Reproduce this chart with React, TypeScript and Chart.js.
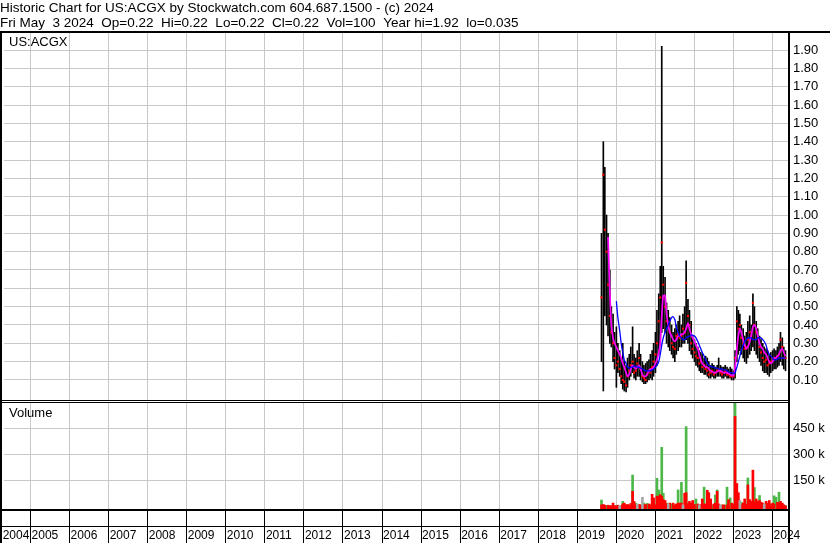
import React, { useEffect, useRef } from 'react';
import { Chart, registerables } from 'chart.js';

Chart.register(...registerables);

const FONT = '"Liberation Sans", Arial, Helvetica, sans-serif';

const headerLines = [
  'Historic Chart for US:ACGX by Stockwatch.com 604.687.1500 - (c) 2024',
  'Fri May  3 2024  Op=0.22  Hi=0.22  Lo=0.22  Cl=0.22  Vol=100  Year hi=1.92  lo=0.035',
];
const symbolLabel = 'US:ACGX';
const volumeLabel = 'Volume';

// year boundaries (the first one sits just before the visible window)
const yearTicks = [2004.26, 2005, 2006, 2007, 2008, 2009, 2010, 2011, 2012, 2013, 2014, 2015, 2016, 2017, 2018, 2019, 2020, 2021, 2022, 2023, 2024];
const priceTicks = [0.1, 0.2, 0.3, 0.4, 0.5, 0.6, 0.7, 0.8, 0.9, 1.0, 1.1, 1.2, 1.3, 1.4, 1.5, 1.6, 1.7, 1.8, 1.9];
const volTicksK = [150, 300, 450];

const dates = [
  '2019-08-15', '2019-09-01', '2019-09-15', '2019-10-01', '2019-10-15', '2019-11-01', '2019-11-15', '2019-12-01', '2019-12-15',
  '2020-01-01', '2020-01-15', '2020-02-01', '2020-02-15', '2020-03-01', '2020-03-15', '2020-04-01', '2020-04-15', '2020-05-01', '2020-05-15', '2020-06-01', '2020-06-15',
  '2020-07-01', '2020-07-15', '2020-08-01', '2020-08-15', '2020-09-01', '2020-09-15', '2020-10-01', '2020-10-15', '2020-11-01', '2020-11-15', '2020-12-01', '2020-12-15',
  '2021-01-01', '2021-01-15', '2021-02-01', '2021-02-15', '2021-03-01', '2021-03-15', '2021-04-01', '2021-04-15', '2021-05-01', '2021-05-15', '2021-06-01', '2021-06-15',
  '2021-07-01', '2021-07-15', '2021-08-01', '2021-08-15', '2021-09-01', '2021-09-15', '2021-10-01', '2021-10-15', '2021-11-01', '2021-11-15', '2021-12-01', '2021-12-15',
  '2022-01-01', '2022-01-15', '2022-02-01', '2022-02-15', '2022-03-01', '2022-03-15', '2022-04-01', '2022-04-15', '2022-05-01', '2022-05-15', '2022-06-01', '2022-06-15',
  '2022-07-01', '2022-07-15', '2022-08-01', '2022-08-15', '2022-09-01', '2022-09-15', '2022-10-01', '2022-10-15', '2022-11-01', '2022-11-15', '2022-12-01', '2022-12-15',
  '2023-01-01', '2023-01-15', '2023-02-01', '2023-02-15', '2023-03-01', '2023-03-15', '2023-04-01', '2023-04-15', '2023-05-01', '2023-05-15', '2023-06-01', '2023-06-15',
  '2023-07-01', '2023-07-15', '2023-08-01', '2023-08-15', '2023-09-01', '2023-09-15', '2023-10-01', '2023-10-15', '2023-11-01', '2023-11-15', '2023-12-01', '2023-12-15',
  '2024-01-01', '2024-01-15', '2024-02-01', '2024-02-15', '2024-03-01', '2024-03-15', '2024-04-01', '2024-04-15', '2024-05-01',
];

const high = [
  0.90, 1.40, 1.26, 1.00, 0.90, 0.70, 0.50, 0.46, 0.36,
  0.39, 0.30, 0.26, 0.22, 0.30, 0.20, 0.18, 0.22, 0.24, 0.28, 0.39, 0.24,
  0.22, 0.26, 0.30, 0.24, 0.20, 0.18, 0.19, 0.20, 0.21, 0.24, 0.26, 0.30,
  0.36, 0.48, 0.57, 0.72, 1.92, 0.72, 0.66, 0.52, 0.48, 0.44, 0.40, 0.36,
  0.38, 0.40, 0.42, 0.45, 0.40, 0.46, 0.50, 0.75, 0.54, 0.48, 0.42, 0.34,
  0.32, 0.30, 0.28, 0.26, 0.25, 0.24, 0.22, 0.23, 0.22, 0.20, 0.18, 0.19,
  0.18, 0.17, 0.18, 0.22, 0.18, 0.17, 0.17, 0.18, 0.17, 0.16, 0.17, 0.16,
  0.15, 0.26, 0.50, 0.48, 0.46, 0.40, 0.38, 0.34, 0.36, 0.42, 0.45, 0.40,
  0.57, 0.50, 0.42, 0.38, 0.34, 0.32, 0.30, 0.28, 0.27, 0.26, 0.24, 0.25,
  0.26, 0.27, 0.26, 0.28, 0.30, 0.36, 0.33, 0.28, 0.26,
];

const low = [
  0.20, 0.04, 0.45, 0.40, 0.34, 0.30, 0.28, 0.20, 0.16,
  0.06, 0.14, 0.12, 0.08, 0.05, 0.04, 0.035, 0.06, 0.10, 0.12, 0.14, 0.11,
  0.10, 0.12, 0.12, 0.10, 0.09, 0.08, 0.08, 0.09, 0.10, 0.11, 0.10, 0.12,
  0.14, 0.18, 0.24, 0.30, 0.36, 0.38, 0.36, 0.30, 0.28, 0.26, 0.24, 0.22,
  0.20, 0.24, 0.26, 0.28, 0.28, 0.30, 0.30, 0.32, 0.30, 0.26, 0.24, 0.22,
  0.20, 0.18, 0.17, 0.15, 0.14, 0.14, 0.13, 0.13, 0.12, 0.11, 0.11, 0.12,
  0.11, 0.11, 0.12, 0.12, 0.12, 0.11, 0.11, 0.12, 0.11, 0.11, 0.11, 0.10,
  0.10, 0.11, 0.20, 0.24, 0.26, 0.24, 0.22, 0.20, 0.19, 0.22, 0.24, 0.26,
  0.28, 0.26, 0.24, 0.22, 0.20, 0.18, 0.15, 0.14, 0.14, 0.13, 0.12, 0.14,
  0.15, 0.16, 0.16, 0.17, 0.18, 0.20, 0.18, 0.16, 0.15,
];

const close = [
  0.55, 1.22, 0.92, 0.80, 0.62, 0.45, 0.36, 0.30, 0.22,
  0.18, 0.20, 0.16, 0.12, 0.10, 0.09, 0.07, 0.12, 0.15, 0.18, 0.20, 0.14,
  0.15, 0.19, 0.22, 0.16, 0.12, 0.11, 0.10, 0.13, 0.15, 0.14, 0.17, 0.20,
  0.24, 0.30, 0.42, 0.55, 0.85, 0.62, 0.50, 0.42, 0.40, 0.36, 0.30, 0.28,
  0.27, 0.34, 0.35, 0.33, 0.34, 0.38, 0.36, 0.63, 0.45, 0.40, 0.30, 0.27,
  0.25, 0.23, 0.22, 0.19, 0.20, 0.17, 0.18, 0.16, 0.15, 0.13, 0.14, 0.15,
  0.13, 0.14, 0.15, 0.16, 0.14, 0.13, 0.14, 0.15, 0.13, 0.13, 0.12, 0.12,
  0.12, 0.22, 0.42, 0.38, 0.40, 0.33, 0.30, 0.27, 0.28, 0.32, 0.36, 0.34,
  0.52, 0.40, 0.36, 0.33, 0.28, 0.25, 0.22, 0.20, 0.21, 0.18, 0.19, 0.20,
  0.22, 0.21, 0.22, 0.23, 0.24, 0.32, 0.28, 0.22, 0.22,
];

const maShort = [
  null, null, null, null, 0.88, 0.58, 0.40, 0.33, 0.30,
  0.28, 0.26, 0.24, 0.22, 0.19, 0.17, 0.14, 0.12, 0.13, 0.16, 0.18, 0.17,
  0.16, 0.17, 0.18, 0.16, 0.13, 0.12, 0.12, 0.13, 0.15, 0.16, 0.16, 0.17,
  0.19, 0.21, 0.25, 0.30, 0.45, 0.56, 0.56, 0.46, 0.40, 0.36, 0.34, 0.32,
  0.31, 0.32, 0.34, 0.34, 0.35, 0.35, 0.36, 0.38, 0.41, 0.38, 0.35, 0.33,
  0.31, 0.29, 0.27, 0.24, 0.21, 0.19, 0.18, 0.17, 0.17, 0.16, 0.15, 0.145,
  0.14, 0.14, 0.145, 0.15, 0.15, 0.145, 0.14, 0.14, 0.14, 0.135, 0.13, 0.125,
  0.125, 0.17, 0.27, 0.34, 0.38, 0.36, 0.32, 0.29, 0.27, 0.28, 0.31, 0.34,
  0.39, 0.40, 0.38, 0.34, 0.30, 0.28, 0.27, 0.25, 0.24, 0.22, 0.20, 0.19,
  0.20, 0.22, 0.22, 0.23, 0.24, 0.26, 0.27, 0.25, 0.23,
];

const maLong = [
  null, null, null, null, null, null, null, null, null,
  0.53, 0.44, 0.37, 0.30, 0.25, 0.21, 0.19, 0.17, 0.165, 0.17, 0.17, 0.175,
  0.175, 0.17, 0.17, 0.165, 0.16, 0.155, 0.15, 0.15, 0.15, 0.15, 0.155, 0.16,
  0.17, 0.18, 0.20, 0.24, 0.29, 0.33, 0.36, 0.38, 0.40, 0.42, 0.44, 0.445,
  0.43, 0.39, 0.36, 0.34, 0.33, 0.32, 0.32, 0.33, 0.335, 0.34, 0.345, 0.345,
  0.34, 0.33, 0.31, 0.29, 0.27, 0.25, 0.23, 0.21, 0.19, 0.18, 0.175, 0.17,
  0.17, 0.165, 0.165, 0.16, 0.16, 0.16, 0.155, 0.155, 0.15, 0.145, 0.14, 0.14,
  0.135, 0.14, 0.17, 0.20, 0.23, 0.26, 0.29, 0.31, 0.32, 0.33, 0.33, 0.33,
  0.32, 0.32, 0.32, 0.33, 0.33, 0.33, 0.32, 0.31, 0.29, 0.26, 0.24, 0.23,
  0.22, 0.21, 0.21, 0.215, 0.22, 0.22, 0.22, 0.22, 0.22,
];

// volume in thousands of shares
const volUpK = [
  38, 0, 5, 6, 0, 5, 0, 0, 4,
  5, 0, 0, 6, 30, 0, 8, 0, 10, 0, 182, 0,
  20, 0, 10, 0, 0, 20, 0, 18, 0, 8, 0, 20,
  0, 163, 96, 0, 342, 77, 0, 20, 0, 0, 15, 0,
  10, 0, 96, 0, 140, 0, 0, 461, 20, 0, 15, 10,
  0, 44, 0, 0, 0, 0, 112, 0, 0, 0, 20, 10,
  0, 67, 96, 0, 0, 10, 0, 8, 112, 0, 50, 15,
  0, 600, 0, 44, 0, 25, 0, 0, 15, 165, 0, 20,
  0, 110, 0, 20, 64, 0, 15, 0, 20, 0, 0, 15,
  0, 62, 54, 20, 83, 0, 10, 0, 5,
];

const volDownK = [
  10, 12, 8, 0, 8, 3, 6, 20, 5,
  3, 8, 0, 4, 15, 20, 10, 12, 6, 18, 88, 30,
  10, 0, 12, 10, 0, 10, 12, 0, 15, 10, 71, 50,
  10, 60, 60, 69, 60, 40, 35, 15, 0, 20, 0, 20,
  8, 15, 20, 20, 20, 0, 77, 80, 15, 30, 20, 35,
  12, 0, 15, 0, 12, 44, 15, 15, 94, 80, 44, 0,
  15, 20, 88, 15, 0, 8, 10, 0, 10, 40, 0, 20,
  12, 520, 133, 80, 0, 10, 20, 44, 10, 125, 40, 30,
  210, 30, 44, 30, 35, 25, 20, 0, 30, 20, 35, 10,
  20, 15, 0, 25, 20, 30, 20, 10, 4,
];

const volFlatK = [
  0, 0, 0, 0, 0, 0, 0, 0, 0,
  0, 0, 5, 0, 0, 0, 0, 0, 0, 0, 0, 0,
  0, 15, 0, 0, 54, 0, 0, 0, 0, 0, 0, 0,
  0, 0, 0, 0, 0, 0, 0, 0, 15, 0, 0, 0,
  0, 0, 0, 0, 0, 10, 0, 0, 0, 0, 0, 0,
  0, 0, 0, 10, 0, 0, 0, 0, 0, 0, 0, 0,
  0, 0, 0, 0, 10, 0, 0, 0, 0, 0, 0, 0,
  0, 0, 0, 0, 35, 0, 0, 0, 0, 0, 0, 0,
  0, 0, 0, 0, 0, 0, 0, 15, 0, 0, 0, 0,
  0, 0, 0, 0, 0, 0, 0, 0, 0,
];

const toYear = (s: string) => {
  const [y, m, d] = s.split('-').map(Number);
  const t0 = Date.UTC(y, 0, 1);
  const t1 = Date.UTC(y + 1, 0, 1);
  return y + (Date.UTC(y, m - 1, d) - t0) / (t1 - t0);
};

const framePlugin = {
  id: 'stockFrame',
  afterDraw(chart: any) {
    const { ctx, chartArea: ca, scales } = chart;
    const yP = scales.yP;
    const yV = scales.yV;
    const W = chart.width;
    const H = chart.height;
    ctx.save();
    ctx.fillStyle = '#000';
    // top rule
    ctx.fillRect(0, ca.top - 2, W, 2);
    // left border
    ctx.fillRect(0, ca.top - 2, 2, H - ca.top + 2);
    // right axis rule
    ctx.fillRect(ca.right - 1, ca.top - 2, 2, H - ca.top + 2);
    // double rule between panels
    const sep = Math.round(yP.bottom);
    ctx.fillStyle = '#fff';
    ctx.fillRect(2, sep - 1, ca.right - 3, 3);
    ctx.fillStyle = '#000';
    ctx.fillRect(0, sep - 1, ca.right, 1);
    ctx.fillRect(0, sep + 1, ca.right, 1);
    // bottom rules of volume panel / year row
    const bot = Math.round(ca.bottom);
    ctx.fillRect(0, bot, ca.right, 2);
    ctx.fillRect(0, bot + 17, ca.right, 1);
    // panel labels
    ctx.font = '13px ' + FONT;
    ctx.textBaseline = 'middle';
    ctx.textAlign = 'left';
    ctx.fillText(symbolLabel, 9, ca.top + 9);
    ctx.fillText(volumeLabel, 9, yV.top + 12);
    ctx.restore();
  },
};

export default function App() {
  const ref = useRef<HTMLCanvasElement | null>(null);

  useEffect(() => {
    if (!ref.current) return;
    const xs = dates.map(toYear);
    const barData = xs.map((x, i) => ({ x, y: [low[i], high[i]] }));
    const closeData = xs.map((x, i) => ({ x, y: close[i] }));
    const maShortData = xs.map((x, i) => ({ x, y: maShort[i] })).filter((p) => p.y !== null);
    const maLongData = xs.map((x, i) => ({ x, y: maLong[i] })).filter((p) => p.y !== null);
    const volUpData = xs.map((x, i) => ({ x, y: volUpK[i] })).filter((p) => p.y > 0);
    const volDownData = xs.map((x, i) => ({ x, y: volDownK[i] })).filter((p) => p.y > 0);
    const volFlatData = xs.map((x, i) => ({ x, y: volFlatK[i] })).filter((p) => p.y > 0);

    const chart = new Chart(ref.current, {
      type: 'bar',
      data: {
        datasets: [
          { type: 'bar', label: 'High-Low', data: barData as any, backgroundColor: '#000', barThickness: 1, grouped: false, yAxisID: 'yP', order: 10 } as any,
          { type: 'line', label: 'Close', data: closeData, showLine: false, pointStyle: 'rect', pointRadius: 1.5, pointBorderWidth: 0, pointBackgroundColor: '#ff0000', yAxisID: 'yP', order: 6 } as any,
          { type: 'line', label: 'MA short', data: maShortData, borderColor: '#ff00ff', borderWidth: 1.7, pointRadius: 0, tension: 0.2, yAxisID: 'yP', order: 4 } as any,
          { type: 'line', label: 'MA long', data: maLongData, borderColor: '#0000ff', borderWidth: 1.3, pointRadius: 0, tension: 0.3, yAxisID: 'yP', order: 3 } as any,
          { type: 'bar', label: 'Vol up', data: volUpData, backgroundColor: '#4cb848', barThickness: 2, grouped: false, base: -14, yAxisID: 'yV', order: 9 } as any,
          { type: 'bar', label: 'Vol down', data: volDownData, backgroundColor: '#ff0000', barThickness: 2, grouped: false, base: -14, yAxisID: 'yV', order: 8 } as any,
          { type: 'bar', label: 'Vol flat', data: volFlatData, backgroundColor: '#a8a8a8', barThickness: 2, grouped: false, base: -14, yAxisID: 'yV', order: 7 } as any,
        ],
      },
      options: {
        animation: false,
        responsive: false,
        maintainAspectRatio: false,
        events: [],
        layout: { padding: 0 },
        plugins: {
          legend: { display: false },
          tooltip: { enabled: false },
          title: {
            display: true,
            text: headerLines,
            align: 'start',
            color: '#000',
            font: { family: FONT, size: 13.5, weight: 'normal', lineHeight: '15px' } as any,
            padding: { top: 1, bottom: 2 },
          },
        },
        scales: {
          x: {
            type: 'linear',
            position: 'bottom',
            min: 2004.32,
            max: 2024.42,
            offset: false,
            afterBuildTicks: (s: any) => { s.ticks = yearTicks.map((v) => ({ value: v })); },
            afterFit: (s: any) => { s.height = 34; },
            grid: { color: '#c8c8c8', lineWidth: 1, drawTicks: true, tickLength: 34, tickColor: '#000', tickWidth: 1, offset: false },
            border: { display: false },
            ticks: {
              autoSkip: false, maxRotation: 0, minRotation: 0, align: 'start',
              labelOffset: 1,
              padding: -15,
              color: '#000', font: { family: FONT, size: 12 },
              callback: (v: any) => String(Math.round(Number(v))),
            },
          },
          yP: {
            type: 'linear',
            position: 'right',
            stack: 'panels',
            stackWeight: 368,
            min: -0.0147,
            max: 1.993,
            afterBuildTicks: (s: any) => { s.ticks = priceTicks.map((v) => ({ value: v })); },
            afterFit: (s: any) => { s.width = 41; },
            grid: { color: '#c8c8c8', lineWidth: 1, drawTicks: false },
            border: { display: false },
            ticks: { autoSkip: false, padding: 4, color: '#000', font: { family: FONT, size: 13 }, callback: (v: any) => Number(v).toFixed(2) },
          },
          yV: {
            type: 'linear',
            position: 'right',
            stack: 'panels',
            stackWeight: 108,
            min: -14,
            max: 609,
            afterBuildTicks: (s: any) => { s.ticks = volTicksK.map((v) => ({ value: v })); },
            afterFit: (s: any) => { s.width = 41; },
            grid: { color: '#c8c8c8', lineWidth: 1, drawTicks: false },
            border: { display: false },
            ticks: { autoSkip: false, padding: 4, color: '#000', font: { family: FONT, size: 13 }, callback: (v: any) => v + ' k' },
          },
        } as any,
      },
      plugins: [framePlugin],
    });
    return () => chart.destroy();
  }, []);

  return (
    <div style={{ position: 'absolute', left: 0, top: 0, width: 830, height: 543, background: '#fff' }}>
      <canvas ref={ref} width={830} height={543} style={{ display: 'block' }} />
    </div>
  );
}
